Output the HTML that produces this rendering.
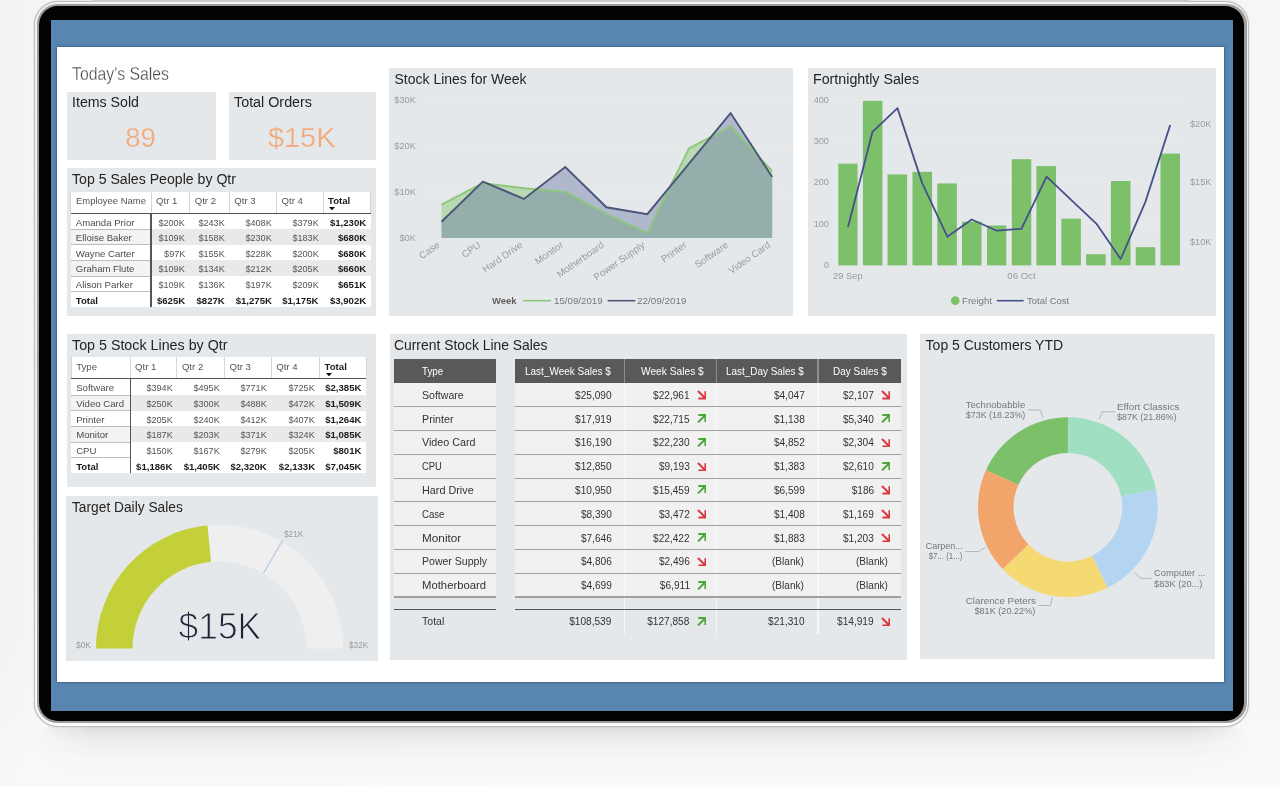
<!DOCTYPE html>
<html lang="en"><head><meta charset="utf-8"><title>Sales Dashboard</title>
<style>
html,body{margin:0;padding:0}
body{width:1280px;height:787px;overflow:hidden;position:relative;background:#f4f4f4;
font-family:"Liberation Sans",sans-serif;}
#stage{position:absolute;left:0;top:0;width:1280px;height:787px;overflow:hidden;
background:linear-gradient(180deg,rgba(255,255,255,0) 80%,rgba(255,255,255,.45) 100%),linear-gradient(90deg,#f2f2f2 0,#f5f5f5 3%,#f6f6f6 50%,#f6f6f6 100%);filter:blur(0.45px)}
#stage div,#stage span,#stage svg{position:absolute}
.t{white-space:nowrap;line-height:1;letter-spacing:0}
.p{background:#e5e8eb}
</style></head><body><div id="stage">

<div style="left:30px;top:725px;width:1223px;height:62px;border-radius:26px 26px 0 0;filter:blur(2.5px);background:linear-gradient(180deg,rgba(196,196,196,.62) 0,rgba(222,222,222,.42) 22%,rgba(240,240,240,.2) 55%,rgba(248,248,248,0) 100%);-webkit-mask-image:linear-gradient(90deg,transparent 0,#000 5%,#000 95%,transparent 100%);mask-image:linear-gradient(90deg,transparent 0,#000 5%,#000 95%,transparent 100%)"></div>
<div style="left:33.6px;top:0.8px;width:1215.8px;height:726.4px;border-radius:24px;background:#bfbfbf;box-shadow:0 0 1.5px rgba(0,0,0,.25)"></div>
<div style="left:34.6px;top:1.8px;width:1213.8px;height:724.4px;border-radius:23px;background:linear-gradient(180deg,#f4f4f4 0,#ededed 50%,#fbfbfb 100%)"></div>
<div style="left:37.2px;top:4.4px;width:1209.6px;height:718.6px;border-radius:20.5px;background:#a09c98"></div>
<div style="left:92px;top:0;width:1098px;height:2.4px;background:#cacac8"></div>
<div style="left:38.7px;top:5.7px;width:1205.6px;height:715.7px;border-radius:19px;background:#020202"></div>
<div style="left:51px;top:20.3px;width:1182px;height:690.6px;background:#5886b1"></div>
<div style="left:56.7px;top:47px;width:1167.2px;height:635px;background:#fff;box-shadow:0 0 2.5px rgba(25,50,75,.8)"></div>
<div style="left:66.5px;top:91.6px;width:149.1px;height:68.2px;background:#e5e8eb;"></div>
<div style="left:229.2px;top:91.6px;width:147.0px;height:68.2px;background:#e5e8eb;"></div>
<div style="left:66.8px;top:168.0px;width:309.2px;height:147.8px;background:#e5e8eb;"></div>
<div style="left:389.3px;top:68.3px;width:403.8px;height:247.3px;background:#e5e8eb;"></div>
<div style="left:808.2px;top:68.3px;width:407.6px;height:247.4px;background:#e5e8eb;"></div>
<div style="left:66.8px;top:334.2px;width:309.2px;height:152.6px;background:#e5e8eb;"></div>
<div style="left:66.4px;top:495.8px;width:311.3px;height:164.8px;background:#e5e8eb;"></div>
<div style="left:389.5px;top:334.3px;width:517.0px;height:325.6px;background:#e5e8eb;"></div>
<div style="left:920.1px;top:334.3px;width:294.6px;height:325.0px;background:#e5e8eb;"></div>
<span class="t" style="top:65.36px;font-size:18px;color:#4a4a4a;left:72.00px;transform-origin:0 50%;transform:scaleX(0.8778);-webkit-text-stroke:0.3px #fff;">Today's Sales</span>
<span class="t" style="top:95.15px;font-size:14px;color:#252423;left:71.50px;transform-origin:0 50%;transform:scaleX(1.0130);">Items Sold</span>
<span class="t" style="top:95.15px;font-size:14px;color:#252423;left:233.60px;transform-origin:0 50%;transform:scaleX(1.0230);">Total Orders</span>
<span class="t" style="top:123.90px;font-size:28px;color:#f1ab7b;left:125.33px;transform-origin:50% 50%;transform:scaleX(0.9825);-webkit-text-stroke:0.25px #e5e8eb;">89</span>
<span class="t" style="top:123.90px;font-size:28px;color:#f1ab7b;left:269.30px;transform-origin:50% 50%;transform:scaleX(1.0337);-webkit-text-stroke:0.25px #e5e8eb;">$15K</span>
<span class="t" style="top:171.95px;font-size:14px;color:#252423;left:71.60px;transform-origin:0 50%;transform:scaleX(1.0083);">Top 5 Sales People by Qtr</span>
<span class="t" style="top:71.75px;font-size:14px;color:#252423;left:394.50px;transform-origin:0 50%;">Stock Lines for Week</span>
<span class="t" style="top:71.95px;font-size:14px;color:#252423;left:813.00px;transform-origin:0 50%;transform:scaleX(1.0166);">Fortnightly Sales</span>
<span class="t" style="top:338.15px;font-size:14px;color:#252423;left:71.60px;transform-origin:0 50%;transform:scaleX(1.0196);">Top 5 Stock Lines by Qtr</span>
<span class="t" style="top:338.15px;font-size:14px;color:#252423;left:394.20px;transform-origin:0 50%;transform:scaleX(0.9912);">Current Stock Line Sales</span>
<span class="t" style="top:338.15px;font-size:14px;color:#252423;left:925.60px;transform-origin:0 50%;">Top 5 Customers YTD</span>
<span class="t" style="top:500.15px;font-size:14px;color:#252423;left:72.20px;transform-origin:0 50%;transform:scaleX(0.9820);">Target Daily Sales</span>
<div style="left:70.8px;top:191.6px;width:299.9px;height:21.4px;background:#fff;"></div>
<div style="left:70.3px;top:191.6px;width:1.0px;height:21.4px;background:#d6d6d6;"></div>
<div style="left:150.5px;top:191.6px;width:1.0px;height:21.4px;background:#d6d6d6;"></div>
<div style="left:189.2px;top:191.6px;width:1.0px;height:21.4px;background:#d6d6d6;"></div>
<div style="left:228.8px;top:191.6px;width:1.0px;height:21.4px;background:#d6d6d6;"></div>
<div style="left:276.0px;top:191.6px;width:1.0px;height:21.4px;background:#d6d6d6;"></div>
<div style="left:322.5px;top:191.6px;width:1.0px;height:21.4px;background:#d6d6d6;"></div>
<div style="left:370.2px;top:191.6px;width:1.0px;height:21.4px;background:#d6d6d6;"></div>
<div style="left:70.8px;top:213.4px;width:80.2px;height:15.6px;background:#fff;"></div>
<div style="left:151.0px;top:213.4px;width:219.7px;height:15.6px;background:#fff;"></div>
<div style="left:70.8px;top:229.0px;width:80.2px;height:15.6px;background:#f3f3f3;"></div>
<div style="left:151.0px;top:229.0px;width:219.7px;height:15.6px;background:#e9e9e9;"></div>
<div style="left:70.8px;top:244.6px;width:80.2px;height:15.6px;background:#fff;"></div>
<div style="left:151.0px;top:244.6px;width:219.7px;height:15.6px;background:#fff;"></div>
<div style="left:70.8px;top:260.2px;width:80.2px;height:15.6px;background:#f3f3f3;"></div>
<div style="left:151.0px;top:260.2px;width:219.7px;height:15.6px;background:#e9e9e9;"></div>
<div style="left:70.8px;top:275.8px;width:80.2px;height:15.6px;background:#fff;"></div>
<div style="left:151.0px;top:275.8px;width:219.7px;height:15.6px;background:#fff;"></div>
<div style="left:70.8px;top:291.4px;width:80.2px;height:15.6px;background:#fff;"></div>
<div style="left:151.0px;top:291.4px;width:219.7px;height:15.6px;background:#fff;"></div>
<div style="left:70.8px;top:228.5px;width:79.7px;height:1.0px;background:#bdbdbd;"></div>
<div style="left:70.8px;top:243.5px;width:79.7px;height:1.0px;background:#bdbdbd;"></div>
<div style="left:70.8px;top:259.5px;width:79.7px;height:1.0px;background:#bdbdbd;"></div>
<div style="left:70.8px;top:275.5px;width:79.7px;height:1.0px;background:#bdbdbd;"></div>
<div style="left:70.8px;top:290.5px;width:79.7px;height:1.0px;background:#bdbdbd;"></div>
<div style="left:70.8px;top:212.5px;width:299.9px;height:1.1px;background:#505050;"></div>
<div style="left:150.4px;top:213.0px;width:1.2px;height:94.0px;background:#555;"></div>
<span class="t" style="top:196.27px;font-size:9.6px;color:#565554;left:75.80px;transform-origin:0 50%;transform:scaleX(0.9864);">Employee Name</span>
<span class="t" style="top:196.27px;font-size:9.6px;color:#565554;left:156.00px;transform-origin:0 50%;">Qtr 1</span>
<span class="t" style="top:196.27px;font-size:9.6px;color:#565554;left:194.70px;transform-origin:0 50%;">Qtr 2</span>
<span class="t" style="top:196.27px;font-size:9.6px;color:#565554;left:234.30px;transform-origin:0 50%;">Qtr 3</span>
<span class="t" style="top:196.27px;font-size:9.6px;color:#565554;left:281.50px;transform-origin:0 50%;">Qtr 4</span>
<span class="t" style="top:196.27px;font-size:9.6px;color:#1b1b1b;font-weight:700;left:328.00px;transform-origin:0 50%;">Total</span>
<svg style="left:329.2px;top:207.0px" width="6" height="3.4" viewBox="0 0 6 3.4"><path d="M0 0H6L3 3.4Z" fill="#111"/></svg>
<span class="t" style="top:217.57px;font-size:9.6px;color:#4d4c4b;left:75.80px;transform-origin:0 50%;">Amanda Prior</span>
<span class="t" style="top:217.57px;font-size:9.6px;color:#565554;left:157.44px;transform-origin:100% 50%;transform:scaleX(0.9500);">$200K</span>
<span class="t" style="top:217.57px;font-size:9.6px;color:#565554;left:197.04px;transform-origin:100% 50%;transform:scaleX(0.9500);">$243K</span>
<span class="t" style="top:217.57px;font-size:9.6px;color:#565554;left:244.24px;transform-origin:100% 50%;transform:scaleX(0.9500);">$408K</span>
<span class="t" style="top:217.57px;font-size:9.6px;color:#565554;left:290.74px;transform-origin:100% 50%;transform:scaleX(0.9500);">$379K</span>
<span class="t" style="top:217.57px;font-size:9.6px;color:#1b1b1b;font-weight:700;left:329.90px;transform-origin:100% 50%;">$1,230K</span>
<span class="t" style="top:233.17px;font-size:9.6px;color:#4d4c4b;left:75.80px;transform-origin:0 50%;">Elloise Baker</span>
<span class="t" style="top:233.17px;font-size:9.6px;color:#565554;left:157.44px;transform-origin:100% 50%;transform:scaleX(0.9500);">$109K</span>
<span class="t" style="top:233.17px;font-size:9.6px;color:#565554;left:197.04px;transform-origin:100% 50%;transform:scaleX(0.9500);">$158K</span>
<span class="t" style="top:233.17px;font-size:9.6px;color:#565554;left:244.24px;transform-origin:100% 50%;transform:scaleX(0.9500);">$230K</span>
<span class="t" style="top:233.17px;font-size:9.6px;color:#565554;left:290.74px;transform-origin:100% 50%;transform:scaleX(0.9500);">$183K</span>
<span class="t" style="top:233.17px;font-size:9.6px;color:#1b1b1b;font-weight:700;left:337.91px;transform-origin:100% 50%;">$680K</span>
<span class="t" style="top:248.77px;font-size:9.6px;color:#4d4c4b;left:75.80px;transform-origin:0 50%;">Wayne Carter</span>
<span class="t" style="top:248.77px;font-size:9.6px;color:#565554;left:162.78px;transform-origin:100% 50%;transform:scaleX(0.9500);">$97K</span>
<span class="t" style="top:248.77px;font-size:9.6px;color:#565554;left:197.04px;transform-origin:100% 50%;transform:scaleX(0.9500);">$155K</span>
<span class="t" style="top:248.77px;font-size:9.6px;color:#565554;left:244.24px;transform-origin:100% 50%;transform:scaleX(0.9500);">$228K</span>
<span class="t" style="top:248.77px;font-size:9.6px;color:#565554;left:290.74px;transform-origin:100% 50%;transform:scaleX(0.9500);">$200K</span>
<span class="t" style="top:248.77px;font-size:9.6px;color:#1b1b1b;font-weight:700;left:337.91px;transform-origin:100% 50%;">$680K</span>
<span class="t" style="top:264.37px;font-size:9.6px;color:#4d4c4b;left:75.80px;transform-origin:0 50%;">Graham Flute</span>
<span class="t" style="top:264.37px;font-size:9.6px;color:#565554;left:157.44px;transform-origin:100% 50%;transform:scaleX(0.9500);">$109K</span>
<span class="t" style="top:264.37px;font-size:9.6px;color:#565554;left:197.04px;transform-origin:100% 50%;transform:scaleX(0.9500);">$134K</span>
<span class="t" style="top:264.37px;font-size:9.6px;color:#565554;left:244.24px;transform-origin:100% 50%;transform:scaleX(0.9500);">$212K</span>
<span class="t" style="top:264.37px;font-size:9.6px;color:#565554;left:290.74px;transform-origin:100% 50%;transform:scaleX(0.9500);">$205K</span>
<span class="t" style="top:264.37px;font-size:9.6px;color:#1b1b1b;font-weight:700;left:337.91px;transform-origin:100% 50%;">$660K</span>
<span class="t" style="top:279.97px;font-size:9.6px;color:#4d4c4b;left:75.80px;transform-origin:0 50%;">Alison Parker</span>
<span class="t" style="top:279.97px;font-size:9.6px;color:#565554;left:157.44px;transform-origin:100% 50%;transform:scaleX(0.9500);">$109K</span>
<span class="t" style="top:279.97px;font-size:9.6px;color:#565554;left:197.04px;transform-origin:100% 50%;transform:scaleX(0.9500);">$136K</span>
<span class="t" style="top:279.97px;font-size:9.6px;color:#565554;left:244.24px;transform-origin:100% 50%;transform:scaleX(0.9500);">$197K</span>
<span class="t" style="top:279.97px;font-size:9.6px;color:#565554;left:290.74px;transform-origin:100% 50%;transform:scaleX(0.9500);">$209K</span>
<span class="t" style="top:279.97px;font-size:9.6px;color:#1b1b1b;font-weight:700;left:337.91px;transform-origin:100% 50%;">$651K</span>
<span class="t" style="top:295.57px;font-size:9.6px;color:#1b1b1b;font-weight:700;left:75.80px;transform-origin:0 50%;">Total</span>
<span class="t" style="top:295.57px;font-size:9.6px;color:#1b1b1b;font-weight:700;left:156.91px;transform-origin:100% 50%;">$625K</span>
<span class="t" style="top:295.57px;font-size:9.6px;color:#1b1b1b;font-weight:700;left:196.51px;transform-origin:100% 50%;">$827K</span>
<span class="t" style="top:295.57px;font-size:9.6px;color:#1b1b1b;font-weight:700;left:235.70px;transform-origin:100% 50%;">$1,275K</span>
<span class="t" style="top:295.57px;font-size:9.6px;color:#1b1b1b;font-weight:700;left:282.20px;transform-origin:100% 50%;">$1,175K</span>
<span class="t" style="top:295.57px;font-size:9.6px;color:#1b1b1b;font-weight:700;left:329.90px;transform-origin:100% 50%;">$3,902K</span>
<div style="left:71.2px;top:357.4px;width:294.8px;height:21.4px;background:#fff;"></div>
<div style="left:70.7px;top:357.4px;width:1.0px;height:21.4px;background:#d6d6d6;"></div>
<div style="left:129.6px;top:357.4px;width:1.0px;height:21.4px;background:#d6d6d6;"></div>
<div style="left:176.4px;top:357.4px;width:1.0px;height:21.4px;background:#d6d6d6;"></div>
<div style="left:224.0px;top:357.4px;width:1.0px;height:21.4px;background:#d6d6d6;"></div>
<div style="left:270.7px;top:357.4px;width:1.0px;height:21.4px;background:#d6d6d6;"></div>
<div style="left:319.1px;top:357.4px;width:1.0px;height:21.4px;background:#d6d6d6;"></div>
<div style="left:365.5px;top:357.4px;width:1.0px;height:21.4px;background:#d6d6d6;"></div>
<div style="left:71.2px;top:379.2px;width:58.9px;height:15.7px;background:#fff;"></div>
<div style="left:130.1px;top:379.2px;width:235.9px;height:15.7px;background:#fff;"></div>
<div style="left:71.2px;top:394.9px;width:58.9px;height:15.7px;background:#f3f3f3;"></div>
<div style="left:130.1px;top:394.9px;width:235.9px;height:15.7px;background:#e9e9e9;"></div>
<div style="left:71.2px;top:410.6px;width:58.9px;height:15.7px;background:#fff;"></div>
<div style="left:130.1px;top:410.6px;width:235.9px;height:15.7px;background:#fff;"></div>
<div style="left:71.2px;top:426.2px;width:58.9px;height:15.7px;background:#f3f3f3;"></div>
<div style="left:130.1px;top:426.2px;width:235.9px;height:15.7px;background:#e9e9e9;"></div>
<div style="left:71.2px;top:441.9px;width:58.9px;height:15.7px;background:#fff;"></div>
<div style="left:130.1px;top:441.9px;width:235.9px;height:15.7px;background:#fff;"></div>
<div style="left:71.2px;top:457.6px;width:58.9px;height:15.7px;background:#fff;"></div>
<div style="left:130.1px;top:457.6px;width:235.9px;height:15.7px;background:#fff;"></div>
<div style="left:71.2px;top:394.5px;width:58.4px;height:1.0px;background:#bdbdbd;"></div>
<div style="left:71.2px;top:409.5px;width:58.4px;height:1.0px;background:#bdbdbd;"></div>
<div style="left:71.2px;top:425.5px;width:58.4px;height:1.0px;background:#bdbdbd;"></div>
<div style="left:71.2px;top:441.5px;width:58.4px;height:1.0px;background:#bdbdbd;"></div>
<div style="left:71.2px;top:456.5px;width:58.4px;height:1.0px;background:#bdbdbd;"></div>
<div style="left:71.2px;top:378.3px;width:294.8px;height:1.1px;background:#505050;"></div>
<div style="left:129.5px;top:378.8px;width:1.2px;height:94.5px;background:#555;"></div>
<span class="t" style="top:362.07px;font-size:9.6px;color:#565554;left:76.20px;transform-origin:0 50%;">Type</span>
<span class="t" style="top:362.07px;font-size:9.6px;color:#565554;left:135.10px;transform-origin:0 50%;">Qtr 1</span>
<span class="t" style="top:362.07px;font-size:9.6px;color:#565554;left:181.90px;transform-origin:0 50%;">Qtr 2</span>
<span class="t" style="top:362.07px;font-size:9.6px;color:#565554;left:229.50px;transform-origin:0 50%;">Qtr 3</span>
<span class="t" style="top:362.07px;font-size:9.6px;color:#565554;left:276.20px;transform-origin:0 50%;">Qtr 4</span>
<span class="t" style="top:362.07px;font-size:9.6px;color:#1b1b1b;font-weight:700;left:324.60px;transform-origin:0 50%;">Total</span>
<svg style="left:325.8px;top:372.8px" width="6" height="3.4" viewBox="0 0 6 3.4"><path d="M0 0H6L3 3.4Z" fill="#111"/></svg>
<span class="t" style="top:383.37px;font-size:9.6px;color:#4d4c4b;left:76.20px;transform-origin:0 50%;">Software</span>
<span class="t" style="top:383.37px;font-size:9.6px;color:#565554;left:144.64px;transform-origin:100% 50%;transform:scaleX(0.9500);">$394K</span>
<span class="t" style="top:383.37px;font-size:9.6px;color:#565554;left:192.24px;transform-origin:100% 50%;transform:scaleX(0.9500);">$495K</span>
<span class="t" style="top:383.37px;font-size:9.6px;color:#565554;left:238.94px;transform-origin:100% 50%;transform:scaleX(0.9500);">$771K</span>
<span class="t" style="top:383.37px;font-size:9.6px;color:#565554;left:287.34px;transform-origin:100% 50%;transform:scaleX(0.9500);">$725K</span>
<span class="t" style="top:383.37px;font-size:9.6px;color:#1b1b1b;font-weight:700;left:325.20px;transform-origin:100% 50%;">$2,385K</span>
<span class="t" style="top:399.05px;font-size:9.6px;color:#4d4c4b;left:76.20px;transform-origin:0 50%;">Video Card</span>
<span class="t" style="top:399.05px;font-size:9.6px;color:#565554;left:144.64px;transform-origin:100% 50%;transform:scaleX(0.9500);">$250K</span>
<span class="t" style="top:399.05px;font-size:9.6px;color:#565554;left:192.24px;transform-origin:100% 50%;transform:scaleX(0.9500);">$300K</span>
<span class="t" style="top:399.05px;font-size:9.6px;color:#565554;left:238.94px;transform-origin:100% 50%;transform:scaleX(0.9500);">$488K</span>
<span class="t" style="top:399.05px;font-size:9.6px;color:#565554;left:287.34px;transform-origin:100% 50%;transform:scaleX(0.9500);">$472K</span>
<span class="t" style="top:399.05px;font-size:9.6px;color:#1b1b1b;font-weight:700;left:325.20px;transform-origin:100% 50%;">$1,509K</span>
<span class="t" style="top:414.73px;font-size:9.6px;color:#4d4c4b;left:76.20px;transform-origin:0 50%;">Printer</span>
<span class="t" style="top:414.73px;font-size:9.6px;color:#565554;left:144.64px;transform-origin:100% 50%;transform:scaleX(0.9500);">$205K</span>
<span class="t" style="top:414.73px;font-size:9.6px;color:#565554;left:192.24px;transform-origin:100% 50%;transform:scaleX(0.9500);">$240K</span>
<span class="t" style="top:414.73px;font-size:9.6px;color:#565554;left:238.94px;transform-origin:100% 50%;transform:scaleX(0.9500);">$412K</span>
<span class="t" style="top:414.73px;font-size:9.6px;color:#565554;left:287.34px;transform-origin:100% 50%;transform:scaleX(0.9500);">$407K</span>
<span class="t" style="top:414.73px;font-size:9.6px;color:#1b1b1b;font-weight:700;left:325.20px;transform-origin:100% 50%;">$1,264K</span>
<span class="t" style="top:430.41px;font-size:9.6px;color:#4d4c4b;left:76.20px;transform-origin:0 50%;">Monitor</span>
<span class="t" style="top:430.41px;font-size:9.6px;color:#565554;left:144.64px;transform-origin:100% 50%;transform:scaleX(0.9500);">$187K</span>
<span class="t" style="top:430.41px;font-size:9.6px;color:#565554;left:192.24px;transform-origin:100% 50%;transform:scaleX(0.9500);">$203K</span>
<span class="t" style="top:430.41px;font-size:9.6px;color:#565554;left:238.94px;transform-origin:100% 50%;transform:scaleX(0.9500);">$371K</span>
<span class="t" style="top:430.41px;font-size:9.6px;color:#565554;left:287.34px;transform-origin:100% 50%;transform:scaleX(0.9500);">$324K</span>
<span class="t" style="top:430.41px;font-size:9.6px;color:#1b1b1b;font-weight:700;left:325.20px;transform-origin:100% 50%;">$1,085K</span>
<span class="t" style="top:446.09px;font-size:9.6px;color:#4d4c4b;left:76.20px;transform-origin:0 50%;">CPU</span>
<span class="t" style="top:446.09px;font-size:9.6px;color:#565554;left:144.64px;transform-origin:100% 50%;transform:scaleX(0.9500);">$150K</span>
<span class="t" style="top:446.09px;font-size:9.6px;color:#565554;left:192.24px;transform-origin:100% 50%;transform:scaleX(0.9500);">$167K</span>
<span class="t" style="top:446.09px;font-size:9.6px;color:#565554;left:238.94px;transform-origin:100% 50%;transform:scaleX(0.9500);">$279K</span>
<span class="t" style="top:446.09px;font-size:9.6px;color:#565554;left:287.34px;transform-origin:100% 50%;transform:scaleX(0.9500);">$205K</span>
<span class="t" style="top:446.09px;font-size:9.6px;color:#1b1b1b;font-weight:700;left:333.21px;transform-origin:100% 50%;">$801K</span>
<span class="t" style="top:461.77px;font-size:9.6px;color:#1b1b1b;font-weight:700;left:76.20px;transform-origin:0 50%;">Total</span>
<span class="t" style="top:461.77px;font-size:9.6px;color:#1b1b1b;font-weight:700;left:136.10px;transform-origin:100% 50%;">$1,186K</span>
<span class="t" style="top:461.77px;font-size:9.6px;color:#1b1b1b;font-weight:700;left:183.70px;transform-origin:100% 50%;">$1,405K</span>
<span class="t" style="top:461.77px;font-size:9.6px;color:#1b1b1b;font-weight:700;left:230.40px;transform-origin:100% 50%;">$2,320K</span>
<span class="t" style="top:461.77px;font-size:9.6px;color:#1b1b1b;font-weight:700;left:278.80px;transform-origin:100% 50%;">$2,133K</span>
<span class="t" style="top:461.77px;font-size:9.6px;color:#1b1b1b;font-weight:700;left:325.20px;transform-origin:100% 50%;">$7,045K</span>
<span class="t" style="top:95.91px;font-size:9.2px;color:#9a9a9a;left:394.31px;transform-origin:100% 50%;">$30K</span>
<span class="t" style="top:141.81px;font-size:9.2px;color:#9a9a9a;left:394.31px;transform-origin:100% 50%;">$20K</span>
<span class="t" style="top:187.61px;font-size:9.2px;color:#9a9a9a;left:394.31px;transform-origin:100% 50%;">$10K</span>
<span class="t" style="top:233.51px;font-size:9.2px;color:#9a9a9a;left:399.43px;transform-origin:100% 50%;">$0K</span>
<span class="t" style="left:415.9px;top:239.1px;font-size:9.7px;color:#9a9a9a;transform-origin:100% 50%;transform:rotate(-35deg)">Case</span>
<span class="t" style="left:459.4px;top:239.1px;font-size:9.7px;color:#9a9a9a;transform-origin:100% 50%;transform:rotate(-35deg)">CPU</span>
<span class="t" style="left:474.5px;top:239.1px;font-size:9.7px;color:#9a9a9a;transform-origin:100% 50%;transform:rotate(-35deg)">Hard Drive</span>
<span class="t" style="left:530.0px;top:239.1px;font-size:9.7px;color:#9a9a9a;transform-origin:100% 50%;transform:rotate(-35deg)">Monitor</span>
<span class="t" style="left:548.4px;top:239.1px;font-size:9.7px;color:#9a9a9a;transform-origin:100% 50%;transform:rotate(-35deg)">Motherboard</span>
<span class="t" style="left:584.4px;top:239.1px;font-size:9.7px;color:#9a9a9a;transform-origin:100% 50%;transform:rotate(-35deg)">Power Supply</span>
<span class="t" style="left:657.4px;top:239.1px;font-size:9.7px;color:#9a9a9a;transform-origin:100% 50%;transform:rotate(-35deg)">Printer</span>
<span class="t" style="left:689.3px;top:239.1px;font-size:9.7px;color:#9a9a9a;transform-origin:100% 50%;transform:rotate(-35deg)">Software</span>
<span class="t" style="left:720.8px;top:239.1px;font-size:9.7px;color:#9a9a9a;transform-origin:100% 50%;transform:rotate(-35deg)">Video Card</span>
<span class="t" style="top:296.07px;font-size:9.6px;color:#605e5c;font-weight:700;left:491.60px;transform-origin:0 50%;transform:scaleX(0.9797);">Week</span>
<span class="t" style="top:296.07px;font-size:9.6px;color:#777;left:553.80px;transform-origin:0 50%;transform:scaleX(1.0115);">15/09/2019</span>
<span class="t" style="top:296.07px;font-size:9.6px;color:#777;left:637.00px;transform-origin:0 50%;transform:scaleX(1.0281);">22/09/2019</span>
<span class="t" style="top:95.51px;font-size:9.2px;color:#9a9a9a;left:813.65px;transform-origin:100% 50%;">400</span>
<span class="t" style="top:137.01px;font-size:9.2px;color:#9a9a9a;left:813.65px;transform-origin:100% 50%;">300</span>
<span class="t" style="top:178.21px;font-size:9.2px;color:#9a9a9a;left:813.65px;transform-origin:100% 50%;">200</span>
<span class="t" style="top:219.51px;font-size:9.2px;color:#9a9a9a;left:813.65px;transform-origin:100% 50%;">100</span>
<span class="t" style="top:260.81px;font-size:9.2px;color:#9a9a9a;left:823.88px;transform-origin:100% 50%;">0</span>
<span class="t" style="top:119.71px;font-size:9.2px;color:#9a9a9a;left:1190.00px;transform-origin:0 50%;">$20K</span>
<span class="t" style="top:178.41px;font-size:9.2px;color:#9a9a9a;left:1190.00px;transform-origin:0 50%;">$15K</span>
<span class="t" style="top:237.71px;font-size:9.2px;color:#9a9a9a;left:1190.00px;transform-origin:0 50%;">$10K</span>
<span class="t" style="top:270.87px;font-size:9.6px;color:#9a9a9a;left:833.00px;transform-origin:0 50%;transform:scaleX(0.9728);">29 Sep</span>
<span class="t" style="top:270.87px;font-size:9.6px;color:#9a9a9a;left:1007.30px;transform-origin:0 50%;">06 Oct</span>
<span class="t" style="top:296.07px;font-size:9.6px;color:#777;left:962.00px;transform-origin:0 50%;transform:scaleX(1.0040);">Freight</span>
<span class="t" style="top:296.07px;font-size:9.6px;color:#777;left:1026.60px;transform-origin:0 50%;transform:scaleX(0.9886);">Total Cost</span>
<span class="t" style="top:642.46px;font-size:8.2px;color:#9a9a9a;left:76.00px;transform-origin:0 50%;transform:scaleX(1.0280);">$0K</span>
<span class="t" style="top:642.46px;font-size:8.2px;color:#9a9a9a;left:348.70px;transform-origin:0 50%;transform:scaleX(1.0078);">$32K</span>
<span class="t" style="top:530.96px;font-size:8.2px;color:#9a9a9a;left:283.80px;transform-origin:0 50%;transform:scaleX(1.0078);">$21K</span>
<span class="t" style="top:607.97px;font-size:37.6px;color:#1e2235;left:175.69px;transform-origin:50% 50%;transform:scaleX(0.9406);-webkit-text-stroke:1px #e5e8eb;">$15K</span>
<div style="left:394.1px;top:359.2px;width:102.3px;height:23.4px;background:#595959;"></div>
<div style="left:514.7px;top:359.2px;width:386.1px;height:23.4px;background:#595959;"></div>
<div style="left:394.1px;top:382.6px;width:102.3px;height:214.4px;background:#f1f1f1;"></div>
<div style="left:514.7px;top:382.6px;width:386.1px;height:214.4px;background:#f1f1f1;"></div>
<div style="left:624.2px;top:359.2px;width:1.2px;height:23.4px;background:#8d8d8d;"></div>
<div style="left:624.2px;top:382.6px;width:1.2px;height:251.4px;background:#f8f8f8;"></div>
<div style="left:716.1px;top:359.2px;width:1.2px;height:23.4px;background:#8d8d8d;"></div>
<div style="left:716.1px;top:382.6px;width:1.2px;height:251.4px;background:#f8f8f8;"></div>
<div style="left:817.4px;top:359.2px;width:1.2px;height:23.4px;background:#8d8d8d;"></div>
<div style="left:817.4px;top:382.6px;width:1.2px;height:251.4px;background:#f8f8f8;"></div>
<div style="left:394.1px;top:406.3px;width:102.3px;height:1.2px;background:#a0a0a0;"></div>
<div style="left:514.7px;top:406.3px;width:386.1px;height:1.2px;background:#a0a0a0;"></div>
<div style="left:394.1px;top:430.1px;width:102.3px;height:1.2px;background:#a0a0a0;"></div>
<div style="left:514.7px;top:430.1px;width:386.1px;height:1.2px;background:#a0a0a0;"></div>
<div style="left:394.1px;top:453.8px;width:102.3px;height:1.2px;background:#a0a0a0;"></div>
<div style="left:514.7px;top:453.8px;width:386.1px;height:1.2px;background:#a0a0a0;"></div>
<div style="left:394.1px;top:477.6px;width:102.3px;height:1.2px;background:#a0a0a0;"></div>
<div style="left:514.7px;top:477.6px;width:386.1px;height:1.2px;background:#a0a0a0;"></div>
<div style="left:394.1px;top:501.3px;width:102.3px;height:1.2px;background:#a0a0a0;"></div>
<div style="left:514.7px;top:501.3px;width:386.1px;height:1.2px;background:#a0a0a0;"></div>
<div style="left:394.1px;top:525.1px;width:102.3px;height:1.2px;background:#a0a0a0;"></div>
<div style="left:514.7px;top:525.1px;width:386.1px;height:1.2px;background:#a0a0a0;"></div>
<div style="left:394.1px;top:548.9px;width:102.3px;height:1.2px;background:#a0a0a0;"></div>
<div style="left:514.7px;top:548.9px;width:386.1px;height:1.2px;background:#a0a0a0;"></div>
<div style="left:394.1px;top:572.6px;width:102.3px;height:1.2px;background:#a0a0a0;"></div>
<div style="left:514.7px;top:572.6px;width:386.1px;height:1.2px;background:#a0a0a0;"></div>
<div style="left:394.1px;top:596.4px;width:102.3px;height:1.2px;background:#a0a0a0;"></div>
<div style="left:514.7px;top:596.4px;width:386.1px;height:1.2px;background:#a0a0a0;"></div>
<div style="left:394.1px;top:608.6px;width:102.3px;height:1.6px;background:#555;"></div>
<div style="left:514.7px;top:608.6px;width:386.1px;height:1.6px;background:#555;"></div>
<span class="t" style="top:367.10px;font-size:10.4px;color:#fff;left:421.60px;transform-origin:0 50%;transform:scaleX(0.9447);">Type</span>
<span class="t" style="top:367.10px;font-size:10.4px;color:#fff;left:525.30px;transform-origin:0 50%;transform:scaleX(0.9618);">Last_Week Sales $</span>
<span class="t" style="top:367.10px;font-size:10.4px;color:#fff;left:641.10px;transform-origin:0 50%;transform:scaleX(0.9816);">Week Sales $</span>
<span class="t" style="top:367.10px;font-size:10.4px;color:#fff;left:726.20px;transform-origin:0 50%;transform:scaleX(0.9544);">Last_Day Sales $</span>
<span class="t" style="top:367.10px;font-size:10.4px;color:#fff;left:833.30px;transform-origin:0 50%;transform:scaleX(0.9612);">Day Sales $</span>
<span class="t" style="top:390.90px;font-size:10.4px;color:#333;left:421.60px;transform-origin:0 50%;transform:scaleX(1.0160);">Software</span>
<span class="t" style="top:390.90px;font-size:10.4px;color:#333;left:574.11px;transform-origin:100% 50%;transform:scaleX(0.9720);">$25,090</span>
<span class="t" style="top:390.90px;font-size:10.4px;color:#333;left:652.01px;transform-origin:100% 50%;transform:scaleX(0.9720);">$22,961</span>
<svg style="left:697.0px;top:390.3px" width="9.4" height="9.4" viewBox="0 0 9.4 9.4"><path d="M1.0 1.0L8.2 8.2M8.4 1.3V8.4H1.3" fill="none" stroke="#dc3a3f" stroke-width="2.0" stroke-linejoin="miter"/></svg>
<span class="t" style="top:390.90px;font-size:10.4px;color:#333;left:772.59px;transform-origin:100% 50%;transform:scaleX(0.9720);">$4,047</span>
<span class="t" style="top:390.90px;font-size:10.4px;color:#333;left:842.09px;transform-origin:100% 50%;transform:scaleX(0.9720);">$2,107</span>
<svg style="left:880.9px;top:390.3px" width="9.4" height="9.4" viewBox="0 0 9.4 9.4"><path d="M1.0 1.0L8.2 8.2M8.4 1.3V8.4H1.3" fill="none" stroke="#dc3a3f" stroke-width="2.0" stroke-linejoin="miter"/></svg>
<span class="t" style="top:414.68px;font-size:10.4px;color:#333;left:421.60px;transform-origin:0 50%;transform:scaleX(1.0283);">Printer</span>
<span class="t" style="top:414.68px;font-size:10.4px;color:#333;left:574.11px;transform-origin:100% 50%;transform:scaleX(0.9720);">$17,919</span>
<span class="t" style="top:414.68px;font-size:10.4px;color:#333;left:652.01px;transform-origin:100% 50%;transform:scaleX(0.9720);">$22,715</span>
<svg style="left:697.0px;top:414.1px" width="9.4" height="9.4" viewBox="0 0 9.4 9.4"><path d="M1.0 8.4L8.2 1.2M1.3 1.0H8.4V8.1" fill="none" stroke="#4da63a" stroke-width="2.0" stroke-linejoin="miter"/></svg>
<span class="t" style="top:414.68px;font-size:10.4px;color:#333;left:772.59px;transform-origin:100% 50%;transform:scaleX(0.9720);">$1,138</span>
<span class="t" style="top:414.68px;font-size:10.4px;color:#333;left:842.09px;transform-origin:100% 50%;transform:scaleX(0.9720);">$5,340</span>
<svg style="left:880.9px;top:414.1px" width="9.4" height="9.4" viewBox="0 0 9.4 9.4"><path d="M1.0 8.4L8.2 1.2M1.3 1.0H8.4V8.1" fill="none" stroke="#4da63a" stroke-width="2.0" stroke-linejoin="miter"/></svg>
<span class="t" style="top:438.46px;font-size:10.4px;color:#333;left:421.60px;transform-origin:0 50%;transform:scaleX(1.0319);">Video Card</span>
<span class="t" style="top:438.46px;font-size:10.4px;color:#333;left:574.11px;transform-origin:100% 50%;transform:scaleX(0.9720);">$16,190</span>
<span class="t" style="top:438.46px;font-size:10.4px;color:#333;left:652.01px;transform-origin:100% 50%;transform:scaleX(0.9720);">$22,230</span>
<svg style="left:697.0px;top:437.9px" width="9.4" height="9.4" viewBox="0 0 9.4 9.4"><path d="M1.0 8.4L8.2 1.2M1.3 1.0H8.4V8.1" fill="none" stroke="#4da63a" stroke-width="2.0" stroke-linejoin="miter"/></svg>
<span class="t" style="top:438.46px;font-size:10.4px;color:#333;left:772.59px;transform-origin:100% 50%;transform:scaleX(0.9720);">$4,852</span>
<span class="t" style="top:438.46px;font-size:10.4px;color:#333;left:842.09px;transform-origin:100% 50%;transform:scaleX(0.9720);">$2,304</span>
<svg style="left:880.9px;top:437.9px" width="9.4" height="9.4" viewBox="0 0 9.4 9.4"><path d="M1.0 1.0L8.2 8.2M8.4 1.3V8.4H1.3" fill="none" stroke="#dc3a3f" stroke-width="2.0" stroke-linejoin="miter"/></svg>
<span class="t" style="top:462.24px;font-size:10.4px;color:#333;left:421.60px;transform-origin:0 50%;transform:scaleX(0.9062);">CPU</span>
<span class="t" style="top:462.24px;font-size:10.4px;color:#333;left:574.11px;transform-origin:100% 50%;transform:scaleX(0.9720);">$12,850</span>
<span class="t" style="top:462.24px;font-size:10.4px;color:#333;left:657.79px;transform-origin:100% 50%;transform:scaleX(0.9720);">$9,193</span>
<svg style="left:697.0px;top:461.6px" width="9.4" height="9.4" viewBox="0 0 9.4 9.4"><path d="M1.0 1.0L8.2 8.2M8.4 1.3V8.4H1.3" fill="none" stroke="#dc3a3f" stroke-width="2.0" stroke-linejoin="miter"/></svg>
<span class="t" style="top:462.24px;font-size:10.4px;color:#333;left:772.59px;transform-origin:100% 50%;transform:scaleX(0.9720);">$1,383</span>
<span class="t" style="top:462.24px;font-size:10.4px;color:#333;left:842.09px;transform-origin:100% 50%;transform:scaleX(0.9720);">$2,610</span>
<svg style="left:880.9px;top:461.6px" width="9.4" height="9.4" viewBox="0 0 9.4 9.4"><path d="M1.0 8.4L8.2 1.2M1.3 1.0H8.4V8.1" fill="none" stroke="#4da63a" stroke-width="2.0" stroke-linejoin="miter"/></svg>
<span class="t" style="top:486.02px;font-size:10.4px;color:#333;left:421.60px;transform-origin:0 50%;transform:scaleX(1.0402);">Hard Drive</span>
<span class="t" style="top:486.02px;font-size:10.4px;color:#333;left:574.11px;transform-origin:100% 50%;transform:scaleX(0.9720);">$10,950</span>
<span class="t" style="top:486.02px;font-size:10.4px;color:#333;left:652.01px;transform-origin:100% 50%;transform:scaleX(0.9720);">$15,459</span>
<svg style="left:697.0px;top:485.4px" width="9.4" height="9.4" viewBox="0 0 9.4 9.4"><path d="M1.0 8.4L8.2 1.2M1.3 1.0H8.4V8.1" fill="none" stroke="#4da63a" stroke-width="2.0" stroke-linejoin="miter"/></svg>
<span class="t" style="top:486.02px;font-size:10.4px;color:#333;left:772.59px;transform-origin:100% 50%;transform:scaleX(0.9720);">$6,599</span>
<span class="t" style="top:486.02px;font-size:10.4px;color:#333;left:850.76px;transform-origin:100% 50%;transform:scaleX(0.9720);">$186</span>
<svg style="left:880.9px;top:485.4px" width="9.4" height="9.4" viewBox="0 0 9.4 9.4"><path d="M1.0 1.0L8.2 8.2M8.4 1.3V8.4H1.3" fill="none" stroke="#dc3a3f" stroke-width="2.0" stroke-linejoin="miter"/></svg>
<span class="t" style="top:509.80px;font-size:10.4px;color:#333;left:421.60px;transform-origin:0 50%;transform:scaleX(0.9185);">Case</span>
<span class="t" style="top:509.80px;font-size:10.4px;color:#333;left:579.89px;transform-origin:100% 50%;transform:scaleX(0.9720);">$8,390</span>
<span class="t" style="top:509.80px;font-size:10.4px;color:#333;left:657.79px;transform-origin:100% 50%;transform:scaleX(0.9720);">$3,472</span>
<svg style="left:697.0px;top:509.2px" width="9.4" height="9.4" viewBox="0 0 9.4 9.4"><path d="M1.0 1.0L8.2 8.2M8.4 1.3V8.4H1.3" fill="none" stroke="#dc3a3f" stroke-width="2.0" stroke-linejoin="miter"/></svg>
<span class="t" style="top:509.80px;font-size:10.4px;color:#333;left:772.59px;transform-origin:100% 50%;transform:scaleX(0.9720);">$1,408</span>
<span class="t" style="top:509.80px;font-size:10.4px;color:#333;left:842.09px;transform-origin:100% 50%;transform:scaleX(0.9720);">$1,169</span>
<svg style="left:880.9px;top:509.2px" width="9.4" height="9.4" viewBox="0 0 9.4 9.4"><path d="M1.0 1.0L8.2 8.2M8.4 1.3V8.4H1.3" fill="none" stroke="#dc3a3f" stroke-width="2.0" stroke-linejoin="miter"/></svg>
<span class="t" style="top:533.58px;font-size:10.4px;color:#333;left:421.60px;transform-origin:0 50%;transform:scaleX(1.1332);">Monitor</span>
<span class="t" style="top:533.58px;font-size:10.4px;color:#333;left:579.89px;transform-origin:100% 50%;transform:scaleX(0.9720);">$7,646</span>
<span class="t" style="top:533.58px;font-size:10.4px;color:#333;left:652.01px;transform-origin:100% 50%;transform:scaleX(0.9720);">$22,422</span>
<svg style="left:697.0px;top:533.0px" width="9.4" height="9.4" viewBox="0 0 9.4 9.4"><path d="M1.0 8.4L8.2 1.2M1.3 1.0H8.4V8.1" fill="none" stroke="#4da63a" stroke-width="2.0" stroke-linejoin="miter"/></svg>
<span class="t" style="top:533.58px;font-size:10.4px;color:#333;left:772.59px;transform-origin:100% 50%;transform:scaleX(0.9720);">$1,883</span>
<span class="t" style="top:533.58px;font-size:10.4px;color:#333;left:842.09px;transform-origin:100% 50%;transform:scaleX(0.9720);">$1,203</span>
<svg style="left:880.9px;top:533.0px" width="9.4" height="9.4" viewBox="0 0 9.4 9.4"><path d="M1.0 1.0L8.2 8.2M8.4 1.3V8.4H1.3" fill="none" stroke="#dc3a3f" stroke-width="2.0" stroke-linejoin="miter"/></svg>
<span class="t" style="top:557.36px;font-size:10.4px;color:#333;left:421.60px;transform-origin:0 50%;transform:scaleX(1.0145);">Power Supply</span>
<span class="t" style="top:557.36px;font-size:10.4px;color:#333;left:579.89px;transform-origin:100% 50%;transform:scaleX(0.9720);">$4,806</span>
<span class="t" style="top:557.36px;font-size:10.4px;color:#333;left:657.79px;transform-origin:100% 50%;transform:scaleX(0.9720);">$2,496</span>
<svg style="left:697.0px;top:556.8px" width="9.4" height="9.4" viewBox="0 0 9.4 9.4"><path d="M1.0 1.0L8.2 8.2M8.4 1.3V8.4H1.3" fill="none" stroke="#dc3a3f" stroke-width="2.0" stroke-linejoin="miter"/></svg>
<span class="t" style="top:557.36px;font-size:10.4px;color:#333;left:771.46px;transform-origin:100% 50%;transform:scaleX(0.9720);">(Blank)</span>
<span class="t" style="top:557.36px;font-size:10.4px;color:#333;left:854.86px;transform-origin:100% 50%;transform:scaleX(0.9720);">(Blank)</span>
<span class="t" style="top:581.14px;font-size:10.4px;color:#333;left:421.60px;transform-origin:0 50%;transform:scaleX(1.0887);">Motherboard</span>
<span class="t" style="top:581.14px;font-size:10.4px;color:#333;left:579.89px;transform-origin:100% 50%;transform:scaleX(0.9720);">$4,699</span>
<span class="t" style="top:581.14px;font-size:10.4px;color:#333;left:658.56px;transform-origin:100% 50%;transform:scaleX(0.9720);">$6,911</span>
<svg style="left:697.0px;top:580.5px" width="9.4" height="9.4" viewBox="0 0 9.4 9.4"><path d="M1.0 8.4L8.2 1.2M1.3 1.0H8.4V8.1" fill="none" stroke="#4da63a" stroke-width="2.0" stroke-linejoin="miter"/></svg>
<span class="t" style="top:581.14px;font-size:10.4px;color:#333;left:771.46px;transform-origin:100% 50%;transform:scaleX(0.9720);">(Blank)</span>
<span class="t" style="top:581.14px;font-size:10.4px;color:#333;left:854.86px;transform-origin:100% 50%;transform:scaleX(0.9720);">(Blank)</span>
<span class="t" style="top:617.10px;font-size:10.4px;color:#333;left:421.60px;transform-origin:0 50%;transform:scaleX(1.0151);">Total</span>
<span class="t" style="top:617.10px;font-size:10.4px;color:#333;left:568.32px;transform-origin:100% 50%;transform:scaleX(0.9720);">$108,539</span>
<span class="t" style="top:617.10px;font-size:10.4px;color:#333;left:646.22px;transform-origin:100% 50%;transform:scaleX(0.9720);">$127,858</span>
<svg style="left:697.0px;top:616.5px" width="9.4" height="9.4" viewBox="0 0 9.4 9.4"><path d="M1.0 8.4L8.2 1.2M1.3 1.0H8.4V8.1" fill="none" stroke="#4da63a" stroke-width="2.0" stroke-linejoin="miter"/></svg>
<span class="t" style="top:617.10px;font-size:10.4px;color:#333;left:766.81px;transform-origin:100% 50%;transform:scaleX(0.9720);">$21,310</span>
<span class="t" style="top:617.10px;font-size:10.4px;color:#333;left:836.31px;transform-origin:100% 50%;transform:scaleX(0.9720);">$14,919</span>
<svg style="left:880.9px;top:616.5px" width="9.4" height="9.4" viewBox="0 0 9.4 9.4"><path d="M1.0 1.0L8.2 8.2M8.4 1.3V8.4H1.3" fill="none" stroke="#dc3a3f" stroke-width="2.0" stroke-linejoin="miter"/></svg>
<span class="t" style="top:401.11px;font-size:9.2px;color:#767676;left:967.70px;transform-origin:100% 50%;transform:scaleX(1.0402);">Technobabble</span>
<span class="t" style="top:411.41px;font-size:9.2px;color:#767676;left:963.63px;transform-origin:100% 50%;transform:scaleX(0.9711);">$73K (18.23%)</span>
<span class="t" style="top:402.81px;font-size:9.2px;color:#767676;left:1117.30px;transform-origin:0 50%;transform:scaleX(1.0678);">Effort Classics</span>
<span class="t" style="top:413.41px;font-size:9.2px;color:#767676;left:1117.30px;transform-origin:0 50%;transform:scaleX(0.9711);">$87K (21.86%)</span>
<span class="t" style="top:569.21px;font-size:9.2px;color:#767676;left:1154.40px;transform-origin:0 50%;transform:scaleX(1.0174);">Computer ...</span>
<span class="t" style="top:580.01px;font-size:9.2px;color:#767676;left:1154.40px;transform-origin:0 50%;transform:scaleX(1.0089);">$83K (20...)</span>
<span class="t" style="top:596.61px;font-size:9.2px;color:#767676;left:969.53px;transform-origin:100% 50%;transform:scaleX(1.0642);">Clarence Peters</span>
<span class="t" style="top:607.21px;font-size:9.2px;color:#767676;left:974.13px;transform-origin:100% 50%;transform:scaleX(0.9923);">$81K (20.22%)</span>
<span class="t" style="top:541.71px;font-size:9.2px;color:#767676;left:924.86px;transform-origin:100% 50%;transform:scaleX(0.9804);">Carpen...</span>
<span class="t" style="top:552.21px;font-size:9.2px;color:#767676;left:923.33px;transform-origin:100% 50%;transform:scaleX(0.8560);">$7... (1...)</span>
<svg style="left:0;top:0" width="1280" height="787" viewBox="0 0 1280 787"><line x1="424" x2="786" y1="100.4" y2="100.4" stroke="#e8ebed" stroke-width="1"/><line x1="424" x2="786" y1="146.3" y2="146.3" stroke="#e8ebed" stroke-width="1"/><line x1="424" x2="786" y1="192.1" y2="192.1" stroke="#e8ebed" stroke-width="1"/><polygon points="441.5,204.6 482.9,183.1 523.9,188.3 565.3,191.9 606.4,214.0 647.3,232.8 689.0,148.3 730.6,126.5 772.2,171.2 772.2,238.0 441.5,238.0" fill="#79c25c" fill-opacity=".40"/><polygon points="441.5,221.8 482.9,181.6 523.9,198.9 565.3,167.0 606.4,207.3 647.3,214.2 689.0,163.6 730.6,113.1 772.2,177.0 772.2,238.0 441.5,238.0" fill="#5a6aa0" fill-opacity=".38"/><polyline points="441.5,204.6 482.9,183.1 523.9,188.3 565.3,191.9 606.4,214.0 647.3,232.8 689.0,148.3 730.6,126.5 772.2,171.2" fill="none" stroke="#8cc77a" stroke-width="1.9" stroke-linejoin="round"/><polyline points="441.5,221.8 482.9,181.6 523.9,198.9 565.3,167.0 606.4,207.3 647.3,214.2 689.0,163.6 730.6,113.1 772.2,177.0" fill="none" stroke="#4b5679" stroke-width="1.9" stroke-linejoin="miter"/><line x1="523" x2="551" y1="300.7" y2="300.7" stroke="#8cc77a" stroke-width="1.6"/><line x1="607.6" x2="635.3" y1="300.7" y2="300.7" stroke="#4b5679" stroke-width="1.6"/><line x1="834" x2="1184" y1="100.0" y2="100.0" stroke="#e8ebed" stroke-width="1"/><line x1="834" x2="1184" y1="141.5" y2="141.5" stroke="#e8ebed" stroke-width="1"/><line x1="834" x2="1184" y1="182.7" y2="182.7" stroke="#e8ebed" stroke-width="1"/><line x1="834" x2="1184" y1="224.0" y2="224.0" stroke="#e8ebed" stroke-width="1"/><rect x="838.3" y="163.6" width="19.3" height="101.8" fill="#7cc06a"/><rect x="862.9" y="100.8" width="19.5" height="164.6" fill="#7cc06a"/><rect x="887.5" y="174.4" width="19.6" height="91.0" fill="#7cc06a"/><rect x="912.5" y="171.8" width="19.6" height="93.6" fill="#7cc06a"/><rect x="937.3" y="183.4" width="19.6" height="82.0" fill="#7cc06a"/><rect x="962.0" y="221.7" width="19.5" height="43.7" fill="#7cc06a"/><rect x="987.0" y="225.5" width="19.3" height="39.9" fill="#7cc06a"/><rect x="1011.8" y="159.2" width="19.5" height="106.2" fill="#7cc06a"/><rect x="1036.4" y="166.1" width="19.6" height="99.3" fill="#7cc06a"/><rect x="1061.3" y="218.6" width="19.6" height="46.8" fill="#7cc06a"/><rect x="1086.1" y="254.2" width="19.6" height="11.2" fill="#7cc06a"/><rect x="1110.9" y="181.0" width="19.6" height="84.4" fill="#7cc06a"/><rect x="1135.7" y="247.2" width="19.6" height="18.2" fill="#7cc06a"/><rect x="1160.5" y="153.6" width="19.5" height="111.8" fill="#7cc06a"/><polyline points="848.0,227.0 872.5,131.8 897.5,108.1 922.2,183.1 947.3,236.7 971.7,219.5 996.8,230.7 1021.4,228.8 1046.6,176.7 1071.4,200.2 1096.3,223.6 1120.7,259.0 1145.4,201.9 1170.2,125.0" fill="none" stroke="#46508a" stroke-width="1.8" stroke-linejoin="round"/><circle cx="955.2" cy="300.6" r="4.3" fill="#7cc06a"/><line x1="996.9" x2="1023.6" y1="300.7" y2="300.7" stroke="#46508a" stroke-width="1.6"/><path d="M95.90 648.40A123.7 123.7 0 0 1 343.30 648.40L306.60 648.40A87.0 87.0 0 0 0 132.60 648.40Z" fill="#efefef"/><path d="M95.90 648.40A123.7 123.7 0 0 1 207.48 525.30L211.07 561.82A87.0 87.0 0 0 0 132.60 648.40Z" fill="#c4d03a"/><line x1="263.4" y1="573.2" x2="282.7" y2="540.2" stroke="#b3c9e0" stroke-width="1.2"/><path d="M1067.90 417.30A89.9 89.9 0 0 1 1156.06 489.58L1121.15 496.56A54.3 54.3 0 0 0 1067.90 452.90Z" fill="#a0dfc2"/><path d="M1156.06 489.58A89.9 89.9 0 0 1 1107.60 587.86L1091.88 555.92A54.3 54.3 0 0 0 1121.15 496.56Z" fill="#b4d5f1"/><path d="M1107.60 587.86A89.9 89.9 0 0 1 1002.60 568.99L1028.46 544.52A54.3 54.3 0 0 0 1091.88 555.92Z" fill="#f5d973"/><path d="M1002.60 568.99A89.9 89.9 0 0 1 986.01 470.10L1018.44 484.79A54.3 54.3 0 0 0 1028.46 544.52Z" fill="#f1a56b"/><path d="M986.01 470.10A89.9 89.9 0 0 1 1067.90 417.30L1067.90 452.90A54.3 54.3 0 0 0 1018.44 484.79Z" fill="#7cc06a"/><polyline points="1027.9,410 1040.6,410 1042.8,418" fill="none" stroke="#b5b5b5" stroke-width="1"/><polyline points="1115.2,411.8 1102.4,411.8 1099,419.4" fill="none" stroke="#b5b5b5" stroke-width="1"/><polyline points="1151.4,578.3 1140.7,578.3 1134.3,571.9" fill="none" stroke="#b5b5b5" stroke-width="1"/><polyline points="1038.5,605.5 1050.4,605.5 1052.1,597.5" fill="none" stroke="#b5b5b5" stroke-width="1"/><polyline points="965.3,551.5 978.9,551.5 985.3,547.2" fill="none" stroke="#b5b5b5" stroke-width="1"/></svg>
</div></body></html>
